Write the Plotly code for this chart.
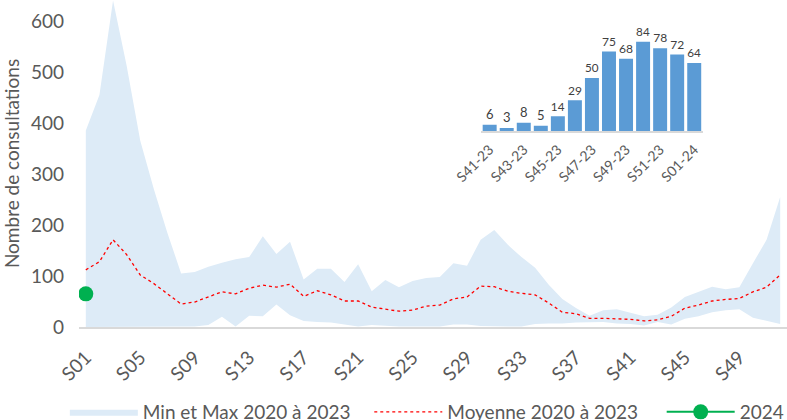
import plotly.graph_objects as go

weeks = [f"S{i:02d}" for i in range(1, 53)]
max_vals = [385, 455, 640, 512, 365, 270, 184, 105, 108, 118, 126, 133, 137, 178, 143, 167,
            93, 114, 114, 88, 123, 70, 92, 78, 90, 96, 98, 125, 120, 171, 190, 161,
            137, 116, 83, 55, 37, 22, 33, 35, 28, 21, 24, 38, 59, 69, 79, 74,
            78, 125, 171, 255]
min_vals = [0, 0, 0, 0, 0, 0, 0, 0, 1, 4, 20, 1, 22, 21, 44, 23,
            12, 10, 9, 5, 1, 4, 2, 1, 1, 1, 1, 5, 5, 2, 1, 1,
            1, 6, 7, 7, 9, 10, 10, 7, 6, 3, 10, 5, 16, 21, 29, 33,
            35, 18, 12, 6]
mean_vals = [112, 128, 171, 142, 102, 85, 65, 45, 49, 59, 69, 65, 76, 82, 78, 84,
             60, 71, 63, 51, 51, 39, 35, 31, 33, 41, 43, 55, 59, 80, 79, 70,
             66, 63, 47, 29, 26, 17, 17, 16, 15, 12, 14, 21, 37, 43, 51, 54,
             56, 69, 78, 102]
weeks_2024 = ["S01"]
vals_2024 = [65]

inset_cats = ["S41-23", "S42-23", "S43-23", "S44-23", "S45-23", "S46-23", "S47-23",
              "S48-23", "S49-23", "S50-23", "S51-23", "S52-23", "S01-24"]
inset_vals = [6, 3, 8, 5, 14, 29, 50, 75, 68, 84, 78, 72, 64]
inset_ticks = ["S41-23", "S43-23", "S45-23", "S47-23", "S49-23", "S51-23", "S01-24"]

FONT = "Lato"
GREY = "#595959"

fig = go.Figure()
fig.add_trace(go.Scatter(x=weeks, y=min_vals, mode="lines", line=dict(width=0, color="#DDEBF7"),
                         showlegend=False, hoverinfo="skip"))
fig.add_trace(go.Scatter(x=weeks, y=max_vals, mode="lines", line=dict(width=0, color="#DDEBF7"),
                         fill="tonexty", fillcolor="#DDEBF7", name="Min et Max 2020 à 2023",
                         legend="legend"))
fig.add_trace(go.Scatter(x=weeks, y=mean_vals, mode="lines",
                         line=dict(color="#FF0000", width=1.3, dash="dot"),
                         name="Moyenne 2020 à 2023", legend="legend2"))
fig.add_trace(go.Scatter(x=weeks_2024, y=vals_2024, mode="lines+markers",
                         line=dict(color="#00B050", width=2),
                         marker=dict(color="#00B050", size=15), name="2024", legend="legend3"))

fig.add_trace(go.Bar(x=inset_cats, y=inset_vals, xaxis="x2", yaxis="y2",
                     marker=dict(color="#5B9BD5", line=dict(width=0)),
                     text=[str(v) for v in inset_vals], textposition="outside",
                     textfont=dict(size=13, color="#404040", family=FONT),
                     cliponaxis=False, showlegend=False))

leg_common = dict(orientation="h", xanchor="left", y=-0.26, yanchor="middle",
                  font=dict(size=19, color=GREY), itemwidth=68, bgcolor="rgba(0,0,0,0)")

fig.update_layout(
    width=787, height=420,
    margin=dict(l=79, r=0, t=0, b=93, autoexpand=False),
    plot_bgcolor="white", paper_bgcolor="white",
    font=dict(family=FONT, color=GREY, size=19),
    bargap=0.18,
    xaxis=dict(type="category", categoryorder="array", categoryarray=weeks,
               range=[-0.5, 51.5], tickmode="array", tickvals=weeks[::4],
               tickangle=-45, showgrid=False, showline=True, linecolor="#D9D9D9",
               linewidth=2, ticks="", ticklabelstandoff=10,
               tickfont=dict(size=19, color=GREY)),
    yaxis=dict(range=[0, 641], tickvals=[0, 100, 200, 300, 400, 500, 600],
               showgrid=False, zeroline=False, showline=False,
               ticklabelstandoff=14,
               tickfont=dict(size=19, color=GREY),
               title=dict(text="Nombre de consultations", font=dict(size=19, color=GREY), standoff=10)),
    xaxis2=dict(domain=[0.568, 0.881], anchor="y2", type="category",
                tickmode="array", tickvals=inset_ticks, tickangle=-45,
                showline=True, linecolor="#D9D9D9", linewidth=2, ticks="",
                ticklabelstandoff=3,
                tickfont=dict(size=14, color=GREY), showgrid=False),
    yaxis2=dict(domain=[0.599, 0.95], anchor="x2", range=[0, 108], visible=False),
    legend=dict(x=-0.02, **leg_common),
    legend2=dict(x=0.41, **leg_common),
    legend3=dict(x=0.823, **leg_common),
)

fig.write_html("out.html")
